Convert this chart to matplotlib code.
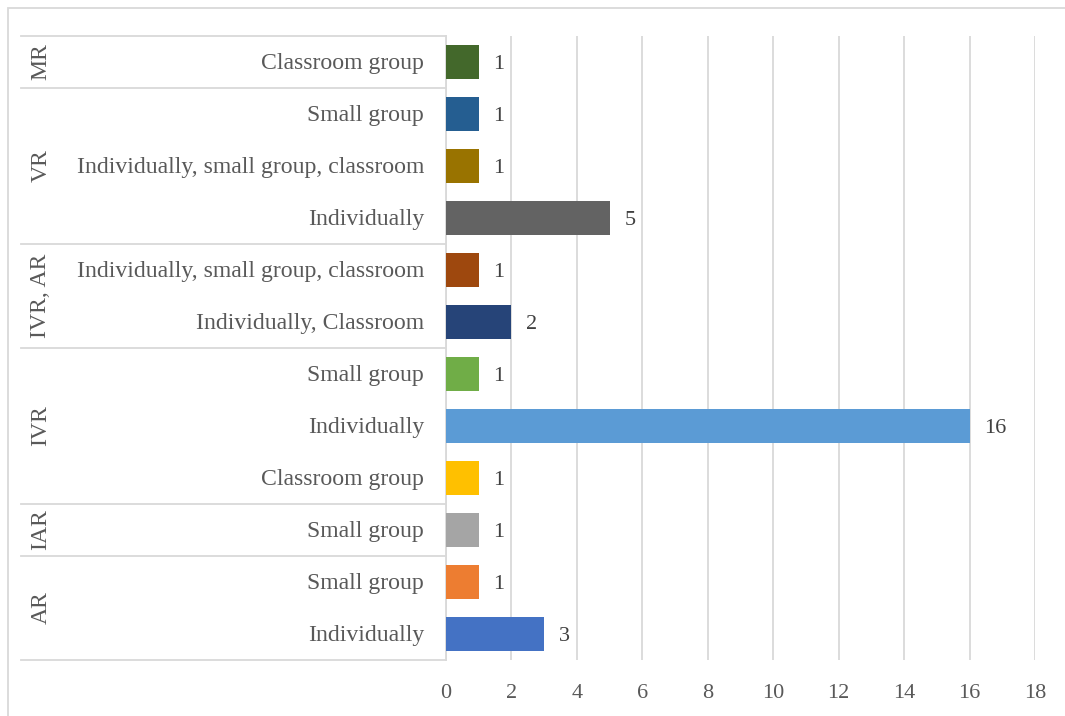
import matplotlib
matplotlib.use("Agg")
import matplotlib.pyplot as plt
from matplotlib.lines import Line2D
from matplotlib.patches import Rectangle
import matplotlib.transforms as mtransforms

# Data (bottom to top)
groups = ["AR", "IAR", "IVR", "IVR, AR", "VR", "MR"]
group_sizes = [2, 1, 3, 2, 3, 1]
subcategories = [
    "Individually", "Small group",
    "Small group",
    "Classroom group", "Individually", "Small group",
    "Individually, Classroom", "Individually, small group, classroom",
    "Individually", "Individually, small group, classroom", "Small group",
    "Classroom group",
]
values = [3, 1, 1, 1, 16, 1, 2, 1, 5, 1, 1, 1]
colors = ["#4472C4", "#ED7D31", "#A5A5A5", "#FFC000", "#5B9BD5", "#70AD47",
          "#264478", "#9E480E", "#636363", "#997300", "#255E91", "#43682B"]
xticks = [0, 2, 4, 6, 8, 10, 12, 14, 16, 18]

W, H = 1065, 716
plt.rcParams['font.family'] = ['Liberation Serif', 'DejaVu Serif']
fig = plt.figure(figsize=(W / 100, H / 100), dpi=100)

ax = fig.add_axes([446 / W, (H - 660) / H, (1035 - 446) / W, (660 - 36) / H])
n = len(values)
ypos = list(range(n))
ax.barh(ypos, values, height=0.67, color=colors, zorder=3)
ax.set_ylim(-0.5, n - 0.5)
ax.set_xlim(0, 18)
ax.set_xticks(xticks)
ax.set_xticklabels([str(t) for t in xticks], fontsize=16, color="#595959")
ax.tick_params(axis="x", length=0, pad=17)
ax.set_yticks([])
for s in ["top", "right", "bottom"]:
    ax.spines[s].set_visible(False)
ax.spines["left"].set_color("#D9D9D9")
ax.spines["left"].set_linewidth(1.3)
ax.grid(axis="x", color="#D9D9D9", linewidth=1.3, zorder=0)
ax.set_axisbelow(True)

for y, v in zip(ypos, values):
    ax.text(v + 0.45, y - 0.04, str(v), va="center", ha="left", fontsize=16,
            color="#404040")

# Category table on the left
bt = mtransforms.blended_transform_factory(fig.transFigure, ax.transData)
for y, lab in zip(ypos, subcategories):
    t = fig.text(424 / W, y - 0.03, lab, ha="right", va="center", fontsize=17.1,
                 color="#595959")
    t.set_transform(bt)

start = -0.5
boundaries = [start]
for g, sz in zip(groups, group_sizes):
    center = start + sz / 2
    t = fig.text(41 / W, center, g, ha="center", va="center", rotation=90,
                 fontsize=17.1, color="#595959")
    t.set_transform(bt)
    start += sz
    boundaries.append(start)

for b in boundaries:
    fig.add_artist(Line2D([21 / W, 446 / W], [b, b], transform=bt,
                          color="#D9D9D9", linewidth=1.3))

# Outer chart border
fig.add_artist(Rectangle((8 / W, -0.05), 1.2, (H - 8) / H + 0.05,
                         transform=fig.transFigure, fill=False,
                         edgecolor="#D9D9D9", linewidth=1.3))

fig.savefig("out.png", dpi=100)
